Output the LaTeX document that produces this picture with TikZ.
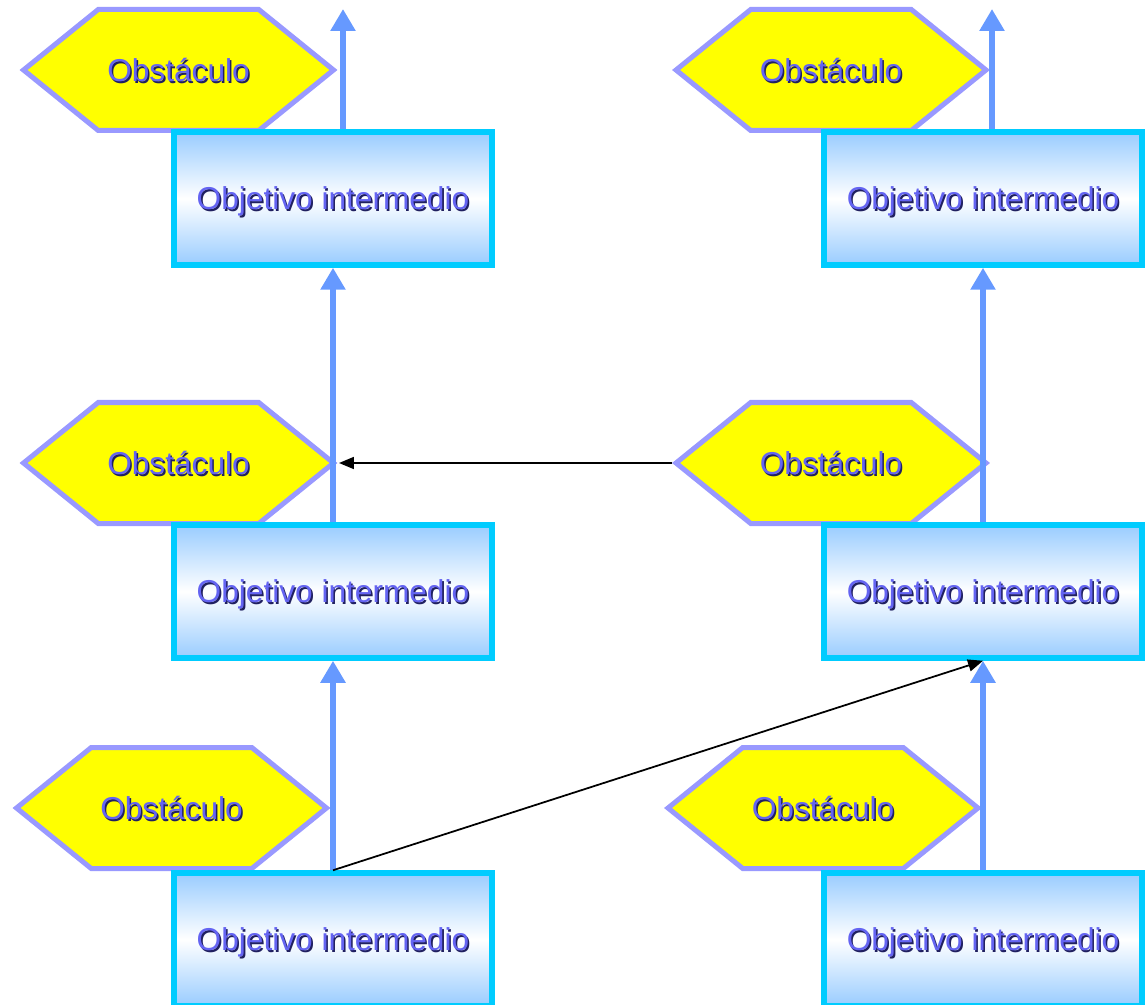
\documentclass[tikz,border=0pt]{standalone}
\usepackage{fontspec}
\setmainfont{Liberation Sans}
\usetikzlibrary{shapes.symbols,arrows.meta}
\definecolor{obstfill}{HTML}{FFFF00}
\definecolor{obstline}{HTML}{9999FF}
\definecolor{objline}{HTML}{00CCFF}
\definecolor{objshade}{HTML}{99CCFF}
\definecolor{flecha}{HTML}{6699FF}
\definecolor{txtblue}{HTML}{6464F2}
\definecolor{txtshadow}{HTML}{202060}
\newcommand{\shtext}[1]{\rlap{\hspace{0.9pt}\raisebox{-0.9pt}{\color{txtshadow}#1}}{\color{txtblue}#1}}
\tikzset{
  obstaculo/.style={signal, signal to=west and east, signal pointer angle=78, draw=obstline, fill=obstfill, line width=0.1cm, minimum width=6.2cm, minimum height=2.42cm, inner sep=0pt, text depth=0pt, font=\fontsize{18}{20}\selectfont},
  objetivo/.style={rectangle, draw=objline, line width=0.11cm, top color=objshade, bottom color=objshade, middle color=white, minimum width=6.36cm, minimum height=2.66cm, inner sep=0pt, text depth=0pt, font=\fontsize{18}{20}\selectfont},
  avance/.style={draw=flecha, line width=0.12cm, -{Triangle[width=0.48cm,length=0.44cm]}},
  enlace/.style={draw=black, line width=1pt, -{Triangle[width=0.24cm,length=0.3cm]}}
}
\begin{document}
\begin{tikzpicture}
  \useasboundingbox (0,0) rectangle (22.9,-20.1);
  % obstaculos
  \node[obstaculo] (hl1) at (3.57,-1.4) {\shtext{Obstáculo}};
  \node[obstaculo] (hl2) at (3.57,-9.26) {\shtext{Obstáculo}};
  \node[obstaculo] (hl3) at (3.43,-16.16) {\shtext{Obstáculo}};
  \node[obstaculo] (hr1) at (16.62,-1.4) {\shtext{Obstáculo}};
  \node[obstaculo] (hr2) at (16.62,-9.26) {\shtext{Obstáculo}};
  \node[obstaculo] (hr3) at (16.46,-16.16) {\shtext{Obstáculo}};
  % objetivos
  \node[objetivo] (ol1) at (6.66,-3.97) {\shtext{Objetivo intermedio}};
  \node[objetivo] (ol2) at (6.66,-11.83) {\shtext{Objetivo intermedio}};
  \node[objetivo] (ol3) at (6.66,-18.79) {\shtext{Objetivo intermedio}};
  \node[objetivo] (or1) at (19.66,-3.97) {\shtext{Objetivo intermedio}};
  \node[objetivo] (or2) at (19.66,-11.83) {\shtext{Objetivo intermedio}};
  \node[objetivo] (or3) at (19.66,-18.79) {\shtext{Objetivo intermedio}};
  % flechas
  \coordinate (tl) at (6.86,-0.18);
  \coordinate (tr) at (19.84,-0.18);
  \draw[avance] (ol1.north -| tl) -- (tl);
  \draw[avance] (or1.north -| tr) -- (tr);
  \draw[avance] (ol2.north) -- (ol1.south);
  \draw[avance] (ol3.north) -- (ol2.south);
  \draw[avance] (or2.north) -- (or1.south);
  \draw[avance] (or3.north) -- (or2.south);
  \draw[enlace] (hr2.west) -- ([xshift=0.03cm]hl2.east);
  \draw[enlace] (ol3.north) -- (or2.south);
\end{tikzpicture}
\end{document}
